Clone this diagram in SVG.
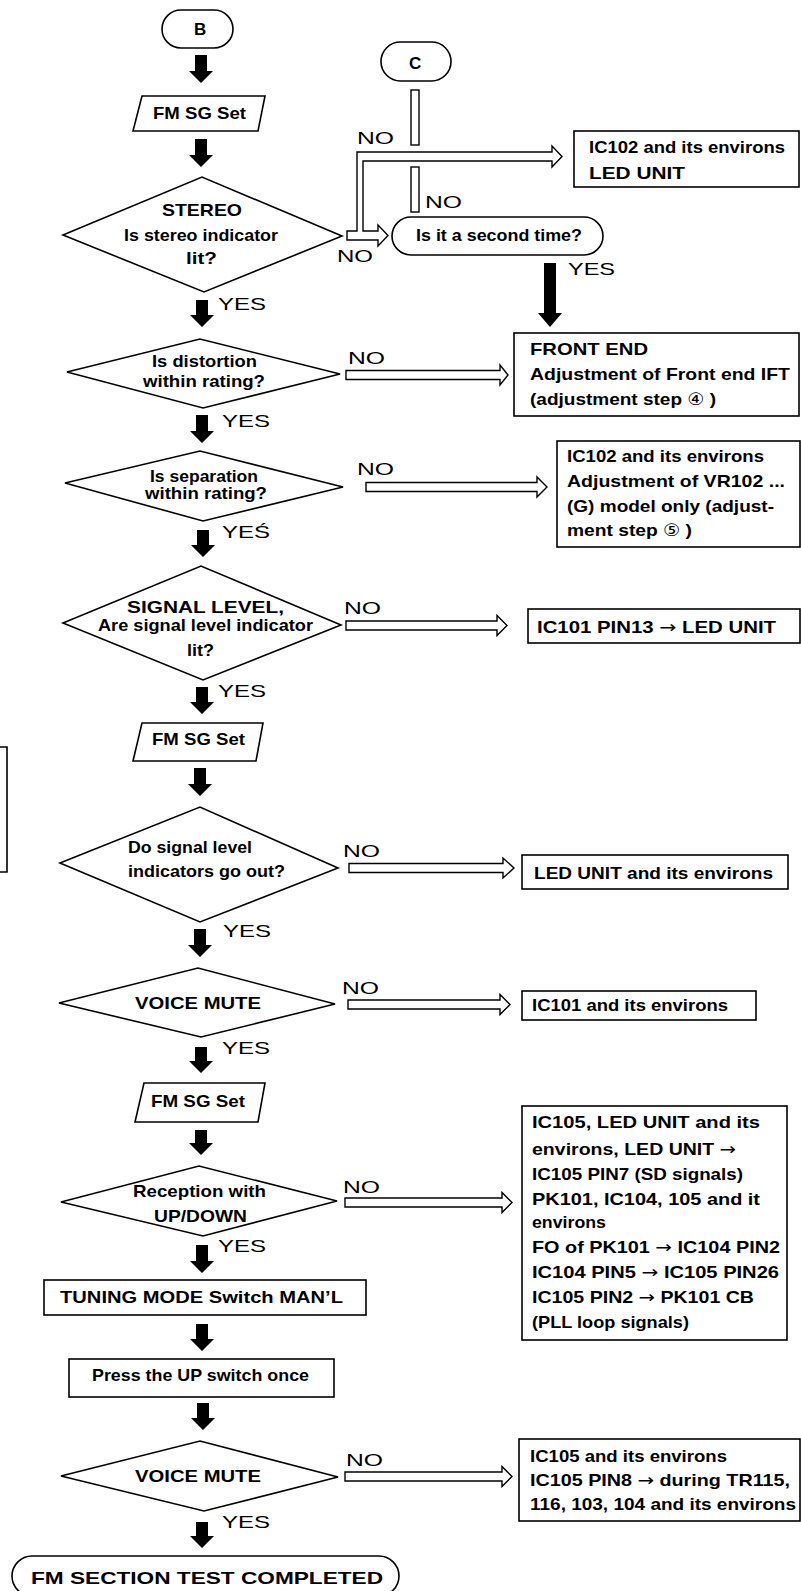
<svg xmlns="http://www.w3.org/2000/svg" width="801" height="1591" viewBox="0 0 801 1591">
<style>
.sh{fill:#fff;stroke:#000;stroke-width:1.6;stroke-linejoin:miter}
.ar{fill:#000;stroke:none}
.ho{fill:#fff;stroke:#000;stroke-width:1.4}
.t{font-family:"Liberation Sans","DejaVu Sans","Noto Sans CJK JP",sans-serif;font-weight:bold;font-size:17px;fill:#000}
.lb{font-family:"Liberation Sans","DejaVu Sans",sans-serif;font-weight:normal;font-size:17px;fill:#000}
.rr{font-family:"DejaVu Sans",sans-serif;font-weight:normal}
</style>
<rect width="801" height="1591" fill="#fff"/>
<g id="connectors">
<path class="ar" d="M195 55H207V71H213L201 83L189 71H195Z"/>
<path class="ar" d="M195 139H207V155H213L201 167L189 155H195Z"/>
<path class="ar" d="M196 300H208V315H214L202 327L190 315H196Z"/>
<path class="ar" d="M196 415H208V431H214L202 443L190 431H196Z"/>
<path class="ar" d="M197 530H209V545H215L203 557L191 545H197Z"/>
<path class="ar" d="M196 687H208V702H214L202 714L190 702H196Z"/>
<path class="ar" d="M194 768H206V784H212L200 796L188 784H194Z"/>
<path class="ar" d="M194 929H206V945H212L200 957L188 945H194Z"/>
<path class="ar" d="M195 1047H207V1061H213L201 1073L189 1061H195Z"/>
<path class="ar" d="M195 1130H207V1143H213L201 1155L189 1143H195Z"/>
<path class="ar" d="M196 1245H208V1261H214L202 1273L190 1261H196Z"/>
<path class="ar" d="M196 1324H208V1339H214L202 1351L190 1339H196Z"/>
<path class="ar" d="M197 1403H209V1418H215L203 1430L191 1418H197Z"/>
<path class="ar" d="M196 1522H208V1536H214L202 1548L190 1536H196Z"/>
<path class="ar" d="M544 263H556V313H562L550 327L538 313H544Z"/>
<path class="ho" d="M347 231H357V152H552V146L562 156.5L552 167V161H363V231H378V225L388 235.5L378 246V240H347Z"/>
<rect class="ho" x="411" y="90" width="8" height="55"/>
<rect class="ho" x="411" y="167" width="8" height="45"/>
<path class="ho" d="M346 370.5H500V365L508 375L500 385V379.5H346Z"/>
<path class="ho" d="M366 482.5H537V477L547 487L537 497V491.5H366Z"/>
<path class="ho" d="M346 621H497V615.5L507 625.5L497 635.5V630H346Z"/>
<path class="ho" d="M349 863.5H503V858L514 868L503 878V872.5H349Z"/>
<path class="ho" d="M348 1000H500V994.5L510 1004.5L500 1014.5V1009H348Z"/>
<path class="ho" d="M345 1198H502V1192.5L512 1202.5L502 1212.5V1207H345Z"/>
<path class="ho" d="M345 1472H502V1466.5L512 1476.5L502 1486.5V1481H345Z"/>
<text class="lb" x="357" y="144" textLength="37" lengthAdjust="spacingAndGlyphs">NO</text>
<text class="lb" x="337" y="262" textLength="36" lengthAdjust="spacingAndGlyphs">NO</text>
<text class="lb" x="425" y="208" textLength="37" lengthAdjust="spacingAndGlyphs">NO</text>
<text class="lb" x="218" y="310" textLength="48" lengthAdjust="spacingAndGlyphs">YES</text>
<text class="lb" x="568" y="275" textLength="47" lengthAdjust="spacingAndGlyphs">YES</text>
<text class="lb" x="348" y="364" textLength="37" lengthAdjust="spacingAndGlyphs">NO</text>
<text class="lb" x="222" y="427" textLength="48" lengthAdjust="spacingAndGlyphs">YES</text>
<text class="lb" x="357" y="475" textLength="37" lengthAdjust="spacingAndGlyphs">NO</text>
<text class="lb" x="222" y="538" textLength="48" lengthAdjust="spacingAndGlyphs">YEŚ</text>
<text class="lb" x="344" y="614" textLength="37" lengthAdjust="spacingAndGlyphs">NO</text>
<text class="lb" x="218" y="697" textLength="48" lengthAdjust="spacingAndGlyphs">YES</text>
<text class="lb" x="343" y="857" textLength="37" lengthAdjust="spacingAndGlyphs">NO</text>
<text class="lb" x="223" y="937" textLength="48" lengthAdjust="spacingAndGlyphs">YES</text>
<text class="lb" x="342" y="994" textLength="37" lengthAdjust="spacingAndGlyphs">NO</text>
<text class="lb" x="222" y="1054" textLength="48" lengthAdjust="spacingAndGlyphs">YES</text>
<text class="lb" x="343" y="1193" textLength="37" lengthAdjust="spacingAndGlyphs">NO</text>
<text class="lb" x="218" y="1252" textLength="48" lengthAdjust="spacingAndGlyphs">YES</text>
<text class="lb" x="346" y="1466" textLength="37" lengthAdjust="spacingAndGlyphs">NO</text>
<text class="lb" x="222" y="1528" textLength="48" lengthAdjust="spacingAndGlyphs">YES</text>
</g>
<g id="stray-box"><path d="M0 747H7V872H0" fill="none" stroke="#000" stroke-width="1.6"/></g>
<g id="node-B">
<rect class="sh" x="162" y="10" width="71" height="38" rx="19"/>
<text class="t" x="194" y="35" font-size="19">B</text>
</g>
<g id="node-fmsg1">
<path class="sh" d="M142 96H265L258 131H133Z"/>
<text class="t" x="153" y="119" textLength="93" lengthAdjust="spacingAndGlyphs">FM SG Set</text>
</g>
<g id="node-stereo">
<path class="sh" d="M63 235L202 177L342 236L204 292Z"/>
<text class="t" x="162" y="216" textLength="80" lengthAdjust="spacingAndGlyphs">STEREO</text>
<text class="t" x="124" y="241" textLength="154" lengthAdjust="spacingAndGlyphs">Is stereo indicator</text>
<text class="t" x="186" y="264" textLength="31" lengthAdjust="spacingAndGlyphs">lit?</text>
</g>
<g id="node-C">
<rect class="sh" x="381" y="42" width="70" height="39" rx="19.5"/>
<text class="t" x="409" y="69" font-size="19">C</text>
</g>
<g id="node-ic102a">
<rect class="sh" x="574" y="131" width="225" height="56"/>
<text class="t" x="589" y="153" textLength="196" lengthAdjust="spacingAndGlyphs">IC102 and its environs</text>
<text class="t" x="589" y="179" textLength="96" lengthAdjust="spacingAndGlyphs">LED UNIT</text>
</g>
<g id="node-second">
<rect class="sh" x="392" y="217" width="211" height="38" rx="19"/>
<text class="t" x="416" y="241" textLength="166" lengthAdjust="spacingAndGlyphs">Is it a second time?</text>
</g>
<g id="node-distortion">
<path class="sh" d="M67 372L200 339L340 374L203 408Z"/>
<text class="t" x="152" y="367" textLength="105" lengthAdjust="spacingAndGlyphs">Is distortion</text>
<text class="t" x="143" y="387" textLength="122" lengthAdjust="spacingAndGlyphs">within rating?</text>
</g>
<g id="node-frontend">
<rect class="sh" x="514" y="333" width="285" height="83"/>
<text class="t" x="530" y="355" textLength="118" lengthAdjust="spacingAndGlyphs">FRONT END</text>
<text class="t" x="530" y="380" textLength="260" lengthAdjust="spacingAndGlyphs">Adjustment of Front end IFT</text>
<text class="t" x="530" y="405" textLength="186" lengthAdjust="spacingAndGlyphs">(adjustment step <tspan class="rr">④</tspan> )</text>
</g>
<g id="node-separation">
<path class="sh" d="M65 483L200 451L343 487L203 521Z"/>
<text class="t" x="150" y="482" textLength="108" lengthAdjust="spacingAndGlyphs">Is separation</text>
<text class="t" x="145" y="499" textLength="122" lengthAdjust="spacingAndGlyphs">within rating?</text>
</g>
<g id="node-ic102b">
<rect class="sh" x="557" y="441" width="243" height="106"/>
<text class="t" x="567" y="462" textLength="197" lengthAdjust="spacingAndGlyphs">IC102 and its environs</text>
<text class="t" x="567" y="487" textLength="218" lengthAdjust="spacingAndGlyphs">Adjustment of VR102 ...</text>
<text class="t" x="567" y="512" textLength="207" lengthAdjust="spacingAndGlyphs">(G) model only (adjust-</text>
<text class="t" x="567" y="536" textLength="125" lengthAdjust="spacingAndGlyphs">ment step <tspan class="rr">⑤</tspan> )</text>
</g>
<g id="node-signal">
<path class="sh" d="M63 623L201 566L341 625L203 680Z"/>
<text class="t" x="127" y="613" textLength="157" lengthAdjust="spacingAndGlyphs">SIGNAL LEVEL,</text>
<text class="t" x="98" y="631" textLength="215" lengthAdjust="spacingAndGlyphs">Are signal level indicator</text>
<text class="t" x="187" y="656" textLength="27" lengthAdjust="spacingAndGlyphs">lit?</text>
</g>
<g id="node-ic101pin13">
<rect class="sh" x="528" y="609" width="272" height="34"/>
<text class="t" x="537" y="633" textLength="239" lengthAdjust="spacingAndGlyphs">IC101 PIN13 <tspan class="rr">→</tspan> LED UNIT</text>
</g>
<g id="node-fmsg2">
<path class="sh" d="M142 723H263L256 761H133Z"/>
<text class="t" x="152" y="745" textLength="93" lengthAdjust="spacingAndGlyphs">FM SG Set</text>
</g>
<g id="node-dosignal">
<path class="sh" d="M60 863L200 807L338 868L200 922Z"/>
<text class="t" x="128" y="853" textLength="124" lengthAdjust="spacingAndGlyphs">Do signal level</text>
<text class="t" x="128" y="877" textLength="157" lengthAdjust="spacingAndGlyphs">indicators go out?</text>
</g>
<g id="node-ledunit">
<rect class="sh" x="522" y="855" width="266" height="34"/>
<text class="t" x="534" y="879" textLength="239" lengthAdjust="spacingAndGlyphs">LED UNIT and its environs</text>
</g>
<g id="node-voicemute1">
<path class="sh" d="M59 1003L198 968L335 1004L201 1037Z"/>
<text class="t" x="135" y="1009" textLength="126" lengthAdjust="spacingAndGlyphs">VOICE MUTE</text>
</g>
<g id="node-ic101">
<rect class="sh" x="522" y="991" width="234" height="29"/>
<text class="t" x="532" y="1011" textLength="196" lengthAdjust="spacingAndGlyphs">IC101 and its environs</text>
</g>
<g id="node-fmsg3">
<path class="sh" d="M144 1083H265L258 1122H135Z"/>
<text class="t" x="151" y="1107" textLength="94" lengthAdjust="spacingAndGlyphs">FM SG Set</text>
</g>
<g id="node-ic105a">
<rect class="sh" x="522" y="1106" width="265" height="234"/>
<text class="t" x="532" y="1128" textLength="228" lengthAdjust="spacingAndGlyphs">IC105, LED UNIT and its</text>
<text class="t" x="532" y="1155" textLength="204" lengthAdjust="spacingAndGlyphs">environs, LED UNIT <tspan class="rr">→</tspan></text>
<text class="t" x="532" y="1180" textLength="211" lengthAdjust="spacingAndGlyphs">IC105 PIN7 (SD signals)</text>
<text class="t" x="532" y="1205" textLength="228" lengthAdjust="spacingAndGlyphs">PK101, IC104, 105 and it</text>
<text class="t" x="532" y="1228" textLength="74" lengthAdjust="spacingAndGlyphs">environs</text>
<text class="t" x="532" y="1253" textLength="248" lengthAdjust="spacingAndGlyphs">FO of PK101 <tspan class="rr">→</tspan> IC104 PIN2</text>
<text class="t" x="532" y="1278" textLength="247" lengthAdjust="spacingAndGlyphs">IC104 PIN5 <tspan class="rr">→</tspan> IC105 PIN26</text>
<text class="t" x="532" y="1303" textLength="222" lengthAdjust="spacingAndGlyphs">IC105 PIN2 <tspan class="rr">→</tspan> PK101 CB</text>
<text class="t" x="532" y="1328" textLength="157" lengthAdjust="spacingAndGlyphs">(PLL loop signals)</text>
</g>
<g id="node-reception">
<path class="sh" d="M61 1202L199 1166L337 1201L203 1236Z"/>
<text class="t" x="133" y="1197" textLength="133" lengthAdjust="spacingAndGlyphs">Reception with</text>
<text class="t" x="154" y="1222" textLength="93" lengthAdjust="spacingAndGlyphs">UP/DOWN</text>
</g>
<g id="node-tuning">
<rect class="sh" x="44" y="1280" width="322" height="35"/>
<text class="t" x="60" y="1303" textLength="283" lengthAdjust="spacingAndGlyphs">TUNING MODE Switch MAN’L</text>
</g>
<g id="node-press">
<rect class="sh" x="69" y="1359" width="265" height="38"/>
<text class="t" x="92" y="1381" textLength="217" lengthAdjust="spacingAndGlyphs">Press the UP switch once</text>
</g>
<g id="node-voicemute2">
<path class="sh" d="M61 1476L200 1441L338 1477L204 1511Z"/>
<text class="t" x="135" y="1482" textLength="126" lengthAdjust="spacingAndGlyphs">VOICE MUTE</text>
</g>
<g id="node-ic105b">
<rect class="sh" x="519" y="1439" width="281" height="82"/>
<text class="t" x="530" y="1462" textLength="197" lengthAdjust="spacingAndGlyphs">IC105 and its environs</text>
<text class="t" x="530" y="1486" textLength="260" lengthAdjust="spacingAndGlyphs">IC105 PIN8 <tspan class="rr">→</tspan> during TR115,</text>
<text class="t" x="530" y="1510" textLength="266" lengthAdjust="spacingAndGlyphs">116, 103, 104 and its environs</text>
</g>
<g id="node-end">
<rect class="sh" x="12" y="1556" width="387" height="40" rx="20"/>
<text class="t" x="31" y="1584" font-size="22" textLength="352" lengthAdjust="spacingAndGlyphs">FM SECTION TEST COMPLETED</text>
</g>
</svg>
